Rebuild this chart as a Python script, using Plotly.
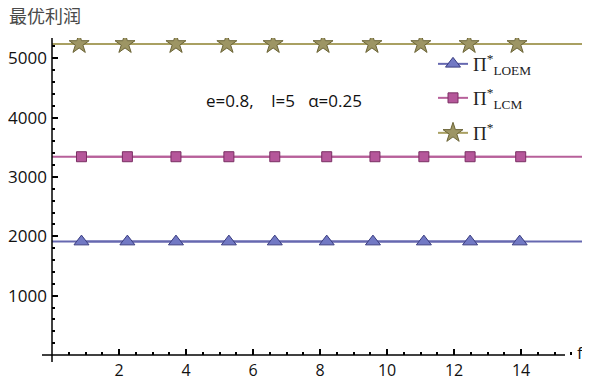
import plotly.graph_objects as go

# data
f_marks_star = [0.81, 2.18, 3.70, 5.22, 6.60, 8.09, 9.55, 11.01, 12.45, 13.88]
f_marks_sq = [0.88, 2.25, 3.70, 5.28, 6.65, 8.20, 9.64, 11.10, 12.48, 13.99]
f_marks_tri = [0.88, 2.25, 3.70, 5.28, 6.65, 8.20, 9.58, 11.10, 12.48, 13.96]
f_line = [0.0, 15.82]
pi_star = 5240
pi_lcm = 3340
pi_loem = 1910
x_ticks = [2, 4, 6, 8, 10, 12, 14]
y_ticks = [1000, 2000, 3000, 4000, 5000]

OFF = 8  # page body margin
W, H = 590 - OFF, 380 - OFF
L, R, T, B = 52 - OFF, 8, 38 - OFF, 25
pw, ph = W - L - R, H - T - B


def px(xpage):
    return (xpage - OFF - L) / pw


def py(ypage):
    return (H - B - (ypage - OFF)) / ph


series = [
    ("Π<sup>*</sup><sub>LOEM</sub>", pi_loem, f_marks_tri, "triangle-up", 13, "#6668B0", "#7279C4", "#3A3D80", "legend", 64),
    ("Π<sup>*</sup><sub>LCM</sub>", pi_lcm, f_marks_sq, "square", 10, "#B7609A", "#B5579A", "#7A2F63", "legend2", 98),
    ("Π<sup>*</sup>", pi_star, f_marks_star, "star", 15, "#A9A062", "#9D9564", "#6B6436", "legend3", 133),
]

fig = go.Figure()
legend_layout = {}
for name, val, fm, sym, size, lc, fc, ec, lg, ly in series:
    fig.add_trace(go.Scatter(x=f_line, y=[val] * len(f_line), mode="lines",
                             line=dict(color=lc, width=2), showlegend=False, hoverinfo="skip"))
    fig.add_trace(go.Scatter(x=fm, y=[val] * len(fm), mode="lines+markers", name=name, legend=lg,
                             line=dict(color=lc, width=2),
                             marker=dict(symbol=sym, size=size, color=fc, line=dict(color=ec, width=1))))
    legend_layout[lg] = dict(x=px(433), xanchor="left", y=py(ly), yanchor="middle",
                             font=dict(family="Liberation Serif", size=19, color="#222"),
                             bgcolor="rgba(0,0,0,0)")

axis_common = dict(showgrid=False, zeroline=False, showline=False, ticks="inside", automargin=False,
                   tickcolor="black", tickwidth=1.5)

fig.update_layout(
    width=W, height=H, margin=dict(l=L, r=R, t=T, b=B),
    paper_bgcolor="white", plot_bgcolor="white",
    xaxis=dict(range=[0, 15.82], tickvals=x_ticks, ticklen=6, ticklabelstandoff=4,
               tickfont=dict(family="Open Sans, Liberation Sans", size=16, color="#111"),
               minor=dict(dtick=0.5, tick0=0, ticks="inside", ticklen=3, tickcolor="black", tickwidth=1.5),
               **axis_common),
    yaxis=dict(range=[0, 5340], tickvals=y_ticks, ticklen=6, ticklabelstandoff=4,
               tickfont=dict(family="Open Sans, Liberation Sans", size=17, color="#111"),
               minor=dict(dtick=200, tick0=0, ticks="inside", ticklen=3, tickcolor="black", tickwidth=1.5),
               **axis_common),
    title=dict(text="最优利润", x=1 / W, xanchor="left", y=1 - (17 - OFF) / H, yanchor="middle",
               font=dict(family="Noto Sans CJK SC", size=18, color="#4a4a4a")),
    showlegend=True,
    **legend_layout,
)

# Mathematica-style crossing axes
fig.add_shape(type="line", xref="paper", yref="paper", x0=px(42), x1=px(565), y0=0, y1=0,
              line=dict(color="black", width=1.5))
fig.add_shape(type="line", xref="paper", yref="paper", x0=0, x1=0, y0=py(362), y1=1,
              line=dict(color="black", width=1.5))

fig.add_annotation(text="f", xref="paper", yref="paper", x=px(580), y=py(352), xanchor="center",
                   yanchor="middle", showarrow=False,
                   font=dict(family="Open Sans, Liberation Sans", size=17, color="#111"))
fig.add_annotation(text="e=0.8,    l=5   α=0.25", xref="paper", yref="paper", x=px(284),
                   y=py(100), xanchor="center", yanchor="middle", showarrow=False,
                   font=dict(family="Open Sans, Liberation Sans", size=17, color="#111"))

fig.write_html("out.html")
